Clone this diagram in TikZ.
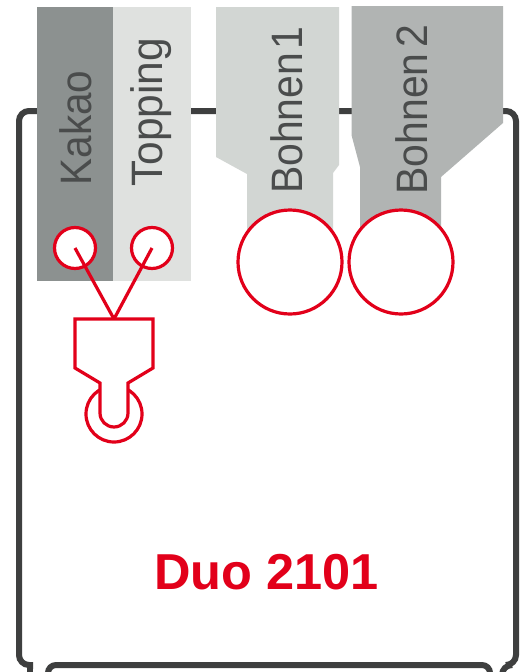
\documentclass[tikz,border=0pt]{standalone}
\usepackage{fontspec}
\setmainfont{Liberation Sans}
\definecolor{framegrey}{HTML}{3E3F3F}
\definecolor{duored}{HTML}{E2001A}
\definecolor{kakaofill}{HTML}{8C9190}
\definecolor{toppingfill}{HTML}{DFE1DF}
\definecolor{bohneneins}{HTML}{D2D6D3}
\definecolor{bohnenzwei}{HTML}{B1B4B3}
\definecolor{labelgrey}{HTML}{4A4C4C}
\tikzset{
  frameline/.style={draw=framegrey,line width=6pt,rounded corners=10pt},
  hopper/.style={draw=none},
  redline/.style={draw=duored,line width=3.2pt,line join=miter},
  roller/.style={circle,draw=duored,fill=white,line width=3.2pt,inner sep=0pt,outer sep=0pt},
  hopperlabel/.style={rotate=90,anchor=base west,inner sep=0pt,text=labelgrey,font=\fontsize{44}{44}\selectfont},
}
\newcommand{\narrowtext}[2]{\scalebox{#1}[1]{#2}}
\begin{document}
\begin{tikzpicture}[x=1pt,y=-1pt]
\useasboundingbox (0,0) rectangle (520,672);
\fill[white] (0,0) rectangle (520,672);
% machine frame
\draw[frameline] (30,690) [sharp corners] -- (30,665) [rounded corners=10pt] -- (19,665) -- (19,111) -- (516,111) -- (516,665) -- (502,665) [sharp corners] -- (502,690);
\draw[frameline,rounded corners=8pt] (48,690) -- (48,665) -- (490,665) [sharp corners] -- (490,690);
\fill[white] (33,669) rectangle (45,672);
\fill[white] (493,669) rectangle (499,672);
% hoppers
\fill[kakaofill,hopper] (37,7) rectangle (113,281);
\fill[toppingfill,hopper] (113,7) rectangle (191,281);
\fill[bohneneins,hopper] (216,7) -- (339,7) -- (339,165) -- (333,173) -- (333,240) -- (247,240) -- (247,174) -- (216,157) -- cycle;
\fill[bohnenzwei,hopper] (351.5,6) -- (503,6) -- (503,123) -- (441,177) -- (441,240) -- (360,240) -- (360,167) -- (351.5,135) -- cycle;
% labels
\node[hopperlabel] (lkakao) at (91,185.5) {\narrowtext{0.92}{Kakao}};
\node[hopperlabel] (ltopping) at (162,187) {\narrowtext{0.965}{Topping}};
\node[hopperlabel] (lbohnen1) at (302,194) {\narrowtext{0.93}{Bohnen\hspace{3pt}1}};
\node[hopperlabel] (lbohnen2) at (427,194.5) {\narrowtext{0.93}{Bohnen\hspace{6pt}2}};
% rollers and doser
\node[roller,minimum size=104pt] (r1) at (290,262) {};
\node[roller,minimum size=104pt] (r2) at (401,262) {};
\node[roller,minimum size=41pt] (kakao) at (75,248) {};
\node[roller,minimum size=41pt] (topping) at (152,248) {};
\node[roller,minimum size=56pt] (wheel) at (114,414) {};
\coordinate (tip) at (114,319);
\draw[redline,fill=white] (75,319) -- (153,319) -- (153,368) -- (128,383) -- (128,413) arc[start angle=0,end angle=180,radius=14] -- (100,383) -- (75,368) -- cycle;
\draw[redline] (kakao.center) -- (tip);
\draw[redline] (topping.center) -- (tip);
% title
\node[anchor=base,inner sep=0pt,text=duored,font=\fontsize{50.5}{50.5}\selectfont\bfseries] (title) at (266.5,589) {Duo 2101};
\end{tikzpicture}
\end{document}
